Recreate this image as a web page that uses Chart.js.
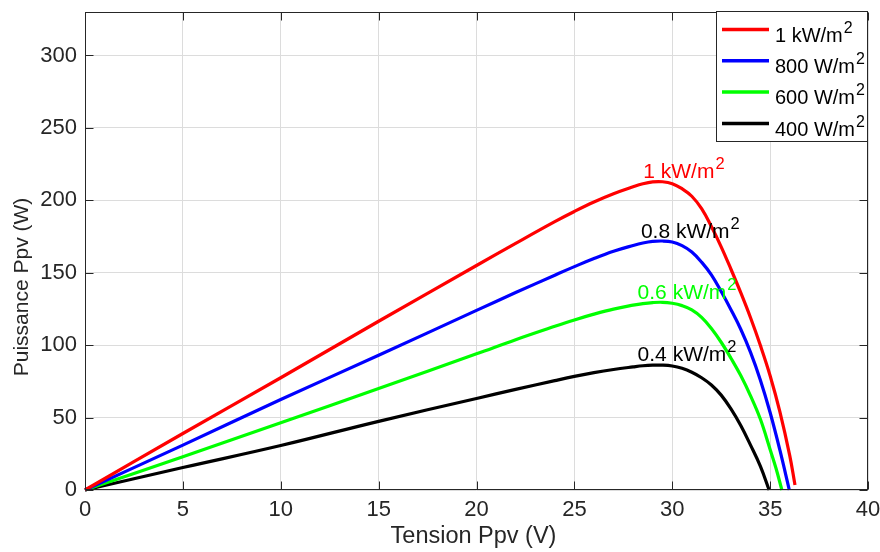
<!DOCTYPE html>
<html>
<head>
<meta charset="utf-8">
<title>Puissance Ppv</title>
<script src="https://cdn.jsdelivr.net/npm/chart.js@4/dist/chart.umd.min.js"></script>
<style>
  html, body { margin: 0; padding: 0; background: #ffffff; }
  #wrap { width: 880px; height: 552px; }
</style>
</head>
<body>
<div id="wrap"><canvas id="pv" width="880" height="552"></canvas></div>
<script>
// Tick labels of both axes
const xTicks = [0, 5, 10, 15, 20, 25, 30, 35, 40];
const yTicks = [0, 50, 100, 150, 200, 250, 300];

// P-V curves: voltage (V) and power (W) for each irradiance
const v1000 = [0, 5, 10, 15, 20, 22, 24, 25, 26, 27, 28, 28.5, 29, 29.5, 30, 30.5, 31, 31.5, 32, 32.5, 33, 33.5, 34, 34.5, 35, 35.5, 36, 36.27];
const p1000 = [0, 39, 77.5, 116.5, 155, 170.3, 185.3, 192.3, 198.8, 204.5, 209.3, 211.4, 212.7, 212.8, 211.5, 208, 202.8, 194.2, 181.9, 167.9, 152.4, 136.2, 118.9, 99.9, 78.9, 53.9, 23.9, 3.5];

const v800 = [0, 5, 10, 15, 20, 22, 24, 25, 26, 27, 28, 28.5, 29, 29.5, 30, 30.5, 31, 31.5, 32, 32.5, 33, 33.5, 34, 34.5, 35, 35.5, 35.98];
const p800 = [0, 31, 62.5, 93, 124, 136.3, 148.3, 154.2, 159.8, 164.8, 168.8, 170.5, 171.6, 171.9, 171.2, 168.7, 164.3, 157.3, 148.5, 137, 124.5, 111, 95, 76, 53.5, 27.5, 0];

const v600 = [0, 5, 10, 15, 20, 22, 24, 25, 26, 27, 28, 28.5, 29, 29.5, 30, 30.5, 31, 31.5, 32, 32.5, 33, 33.5, 34, 34.5, 35, 35.3, 35.6];
const p600 = [0, 23, 46.5, 70, 94, 103.8, 113, 117.4, 121.4, 124.9, 127.6, 128.7, 129.4, 129.6, 128.9, 127.3, 124.4, 119.2, 111.5, 102, 91, 79, 65, 49, 28, 15, 0];

const v400 = [0, 5, 10, 15, 20, 22, 24, 25, 26, 27, 28, 28.5, 29, 29.5, 30, 30.5, 31, 31.5, 32, 32.5, 33, 33.5, 34, 34.5, 34.95];
const p400 = [0, 15.5, 30.7, 47.4, 63.2, 69.5, 75.5, 78.4, 81, 83.2, 85, 85.8, 86.2, 86.2, 85.6, 84, 81.3, 77.5, 72.5, 65.5, 56, 44.5, 31, 16.5, 0];

// Legend entries and curve annotations (base text + superscript)
const legendNames = ['1 kW/m', '800 W/m', '600 W/m', '400 W/m'];
const curveNames = ['1 kW/m', '0.8 kW/m', '0.6 kW/m', '0.4 kW/m'];
const curveNameV = [28.52, 28.4, 28.23, 28.23];
const curveNameP = [215.4, 174.3, 131.7, 89.2];
const lineColors = ['#ff0000', '#0000ff', '#00ff00', '#000000'];
const curveNameColors = ['#ff0000', '#000000', '#00ff00', '#000000'];

const FONT = "'Liberation Sans', Arial, Helvetica, sans-serif";
const INK = '#262626';

function pts(vs, ps) { return vs.map((v, i) => ({ x: v, y: ps[i] })); }

const curves = [pts(v1000, p1000), pts(v800, p800), pts(v600, p600), pts(v400, p400)];

function drawSup(ctx, base, sup, x, y, color, size, supSize, rise) {
  ctx.fillStyle = color;
  ctx.textAlign = 'left';
  ctx.textBaseline = 'alphabetic';
  ctx.font = size + 'px ' + FONT;
  ctx.fillText(base, x, y);
  const w = ctx.measureText(base).width;
  ctx.font = supSize + 'px ' + FONT;
  ctx.fillText(sup, x + w + 1, y - rise);
}

const framePlugin = {
  id: 'frame',
  afterDatasetsDraw(chart) {
    const { ctx, chartArea: a, scales: { x, y } } = chart;
    ctx.save();
    // box around the axes
    ctx.strokeStyle = INK;
    ctx.lineWidth = 1;
    const L = Math.round(a.left) + 0.5, R = Math.round(a.right) - 0.5;
    const T = Math.round(a.top) + 0.5, B = Math.round(a.bottom) - 0.5;
    ctx.strokeRect(L, T, R - L, B - T);
    // inward tick marks on all four sides
    ctx.beginPath();
    xTicks.forEach(v => {
      const px = Math.round(x.getPixelForValue(v)) + 0.5;
      ctx.moveTo(px, B); ctx.lineTo(px, B - 8);
      ctx.moveTo(px, T); ctx.lineTo(px, T + 8);
    });
    yTicks.forEach(v => {
      const py = Math.round(y.getPixelForValue(v)) + 0.5;
      ctx.moveTo(L, py); ctx.lineTo(L + 8, py);
      ctx.moveTo(R, py); ctx.lineTo(R - 8, py);
    });
    ctx.stroke();

    // curve annotations
    curveNames.forEach((t, i) => {
      drawSup(ctx, t, '2', x.getPixelForValue(curveNameV[i]), y.getPixelForValue(curveNameP[i]),
              curveNameColors[i], 21, 16.5, 9);
    });

    // axis titles
    ctx.fillStyle = INK;
    ctx.font = '23.5px ' + FONT;
    ctx.textAlign = 'center';
    ctx.textBaseline = 'middle';
    ctx.fillText('Tension Ppv (V)', (a.left + a.right) / 2 - 3, 537);
    ctx.save();
    ctx.translate(22, 287);
    ctx.rotate(-Math.PI / 2);
    ctx.font = '21px ' + FONT;
    ctx.fillText('Puissance Ppv (W)', 0, 0);
    ctx.restore();

    // legend box
    const lx = 716, ly = 11, lw = 152, lh = 131;
    ctx.fillStyle = '#ffffff';
    ctx.fillRect(lx, ly, lw, lh);
    ctx.strokeStyle = INK;
    ctx.lineWidth = 1;
    ctx.strokeRect(lx + 0.5, ly + 0.5, lw - 1, lh - 1);
    legendNames.forEach((t, i) => {
      const rowY = 29.5 + i * 31.3;
      ctx.strokeStyle = lineColors[i];
      ctx.lineWidth = 3.5;
      ctx.beginPath();
      ctx.moveTo(722, rowY); ctx.lineTo(769, rowY);
      ctx.stroke();
      drawSup(ctx, t, '2', 775, rowY + 12.3, '#000000', 20, 16, 9);
    });
    ctx.restore();
  }
};

new Chart(document.getElementById('pv'), {
  type: 'line',
  data: {
    datasets: curves.map((d, i) => ({
      label: legendNames[i] + '2',
      data: d,
      borderColor: lineColors[i],
      backgroundColor: lineColors[i],
      borderWidth: 3.2,
      pointRadius: 0,
      fill: false,
      tension: 0.4,
      clip: 2
    }))
  },
  options: {
    responsive: false,
    animation: false,
    devicePixelRatio: 1,
    layout: { padding: { left: 0, right: 12, top: 12, bottom: 0 } },
    plugins: { legend: { display: false }, tooltip: { enabled: false } },
    scales: {
      x: {
        type: 'linear',
        min: 0, max: 40,
        afterBuildTicks: s => { s.ticks = xTicks.map(v => ({ value: v })); },
        afterFit: s => { s.height = 62; s.paddingLeft = 0; s.paddingRight = 0; },
        grid: { color: '#dcdcdc', lineWidth: 1, drawTicks: false },
        border: { display: false },
        ticks: { color: INK, font: { family: FONT, size: 22 }, padding: 7, maxRotation: 0 }
      },
      y: {
        type: 'linear',
        min: 0, max: 330,
        afterBuildTicks: s => { s.ticks = yTicks.map(v => ({ value: v })); },
        afterFit: s => { s.width = 85; s.paddingTop = 0; s.paddingBottom = 0; },
        grid: { color: '#dcdcdc', lineWidth: 1, drawTicks: false },
        border: { display: false },
        ticks: { color: INK, font: { family: FONT, size: 22 }, padding: 8 }
      }
    }
  },
  plugins: [framePlugin]
});
</script>
</body>
</html>
